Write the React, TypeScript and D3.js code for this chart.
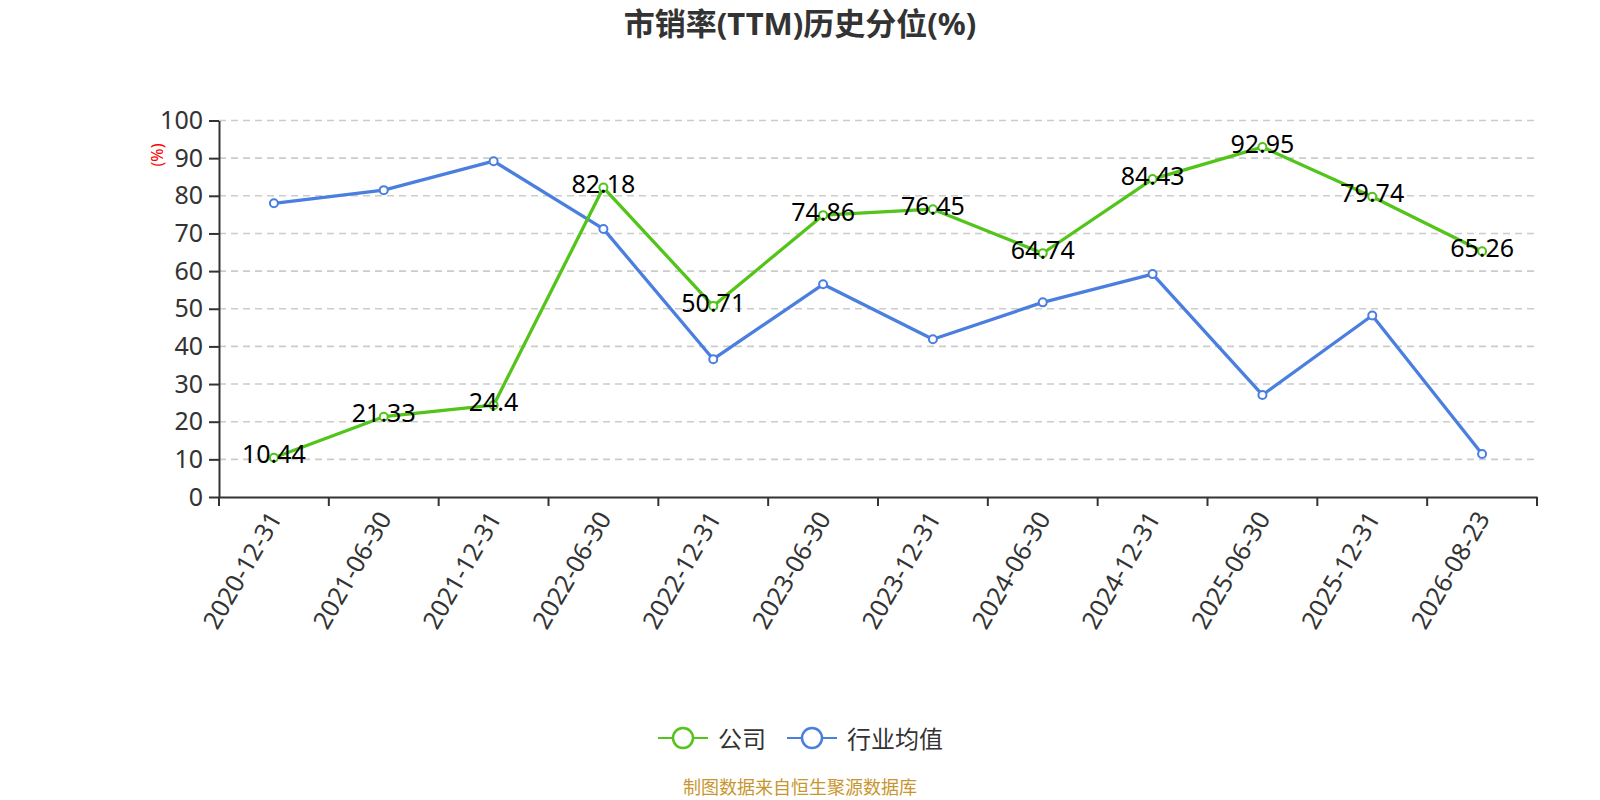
import React, { useEffect, useRef } from 'react';
import * as d3 from 'd3';

const categories = [
  '2020-12-31', '2021-06-30', '2021-12-31', '2022-06-30', '2022-12-31', '2023-06-30',
  '2023-12-31', '2024-06-30', '2024-12-31', '2025-06-30', '2025-12-31', '2026-08-23',
];
const companyValues = [10.44, 21.33, 24.4, 82.18, 50.71, 74.86, 76.45, 64.74, 84.43, 92.95, 79.74, 65.26];
const industryValues = [78.0, 81.5, 89.2, 71.2, 36.6, 56.5, 41.9, 51.7, 59.2, 27.1, 48.2, 11.4];
const yTicks = [0, 10, 20, 30, 40, 50, 60, 70, 80, 90, 100];

const FONT = '"Noto Sans", "Noto Sans CJK SC", sans-serif';
const GREEN = '#52c41a';
const BLUE = '#4a7fe0';

const App: React.FC = () => {
  const svgRef = useRef<SVGSVGElement>(null);

  useEffect(() => {
    if (!svgRef.current) return;
    document.body.style.margin = '0';
    document.body.style.overflow = 'hidden';
    const left = 219, right = 1537, top = 120.5, bottom = 497;
    const svg = d3.select(svgRef.current);
    svg.selectAll('*').remove();

    const x = d3.scaleBand<string>().domain(categories).range([left, right]);
    const y = d3.scaleLinear().domain([0, 100]).range([bottom, top]);
    const cx = (d: string) => (x(d) as number) + x.bandwidth() / 2;

    // Title
    svg.append('text')
      .attr('x', 800).attr('y', 23)
      .attr('text-anchor', 'middle').attr('dominant-baseline', 'central')
      .attr('font-family', FONT).attr('font-size', 31).attr('font-weight', 'bold')
      .attr('fill', '#333')
      .text('市销率(TTM)历史分位(%)');

    // Grid lines
    svg.append('g').selectAll('line')
      .data(yTicks.filter(t => t > 0))
      .join('line')
      .attr('x1', left).attr('x2', right)
      .attr('y1', d => y(d)).attr('y2', d => y(d))
      .attr('stroke', '#ccc').attr('stroke-width', 1.6).attr('stroke-dasharray', '7,5');

    // Y axis
    const yAxis = svg.append('g')
      .attr('transform', `translate(${left},0)`)
      .call(d3.axisLeft(y).tickValues(yTicks).tickSize(10).tickSizeOuter(0));
    yAxis.select('.domain').attr('stroke', '#333').attr('stroke-width', 2);
    yAxis.selectAll('.tick line').attr('stroke', '#333').attr('stroke-width', 2);
    yAxis.selectAll('.tick text')
      .attr('font-family', FONT).attr('font-size', 25).attr('fill', '#333').attr('x', -16);

    svg.append('text')
      .attr('transform', `translate(157,155) rotate(-90)`)
      .attr('text-anchor', 'middle').attr('dominant-baseline', 'central')
      .attr('font-family', FONT).attr('font-size', 16).attr('fill', 'red')
      .text('(%)');

    // X axis
    const xAxis = svg.append('g')
      .attr('transform', `translate(0,${bottom})`)
      .call(d3.axisBottom(x).tickSize(0).tickSizeOuter(0));
    xAxis.select('.domain').attr('stroke', '#333').attr('stroke-width', 2);
    xAxis.selectAll('.tick text')
      .attr('font-family', FONT).attr('font-size', 25).attr('fill', '#333')
      .attr('text-anchor', 'end').attr('dominant-baseline', 'central')
      .attr('transform', 'translate(0,16) rotate(-60)')
      .attr('x', 0).attr('y', 0).attr('dy', null);
    const boundaries = categories.map(c => x(c) as number).concat([right]);
    svg.append('g').selectAll('line')
      .data(boundaries)
      .join('line')
      .attr('x1', d => d).attr('x2', d => d)
      .attr('y1', bottom).attr('y2', bottom + 9)
      .attr('stroke', '#333').attr('stroke-width', 2);

    const line = d3.line<number>()
      .x((_, i) => cx(categories[i]))
      .y(d => y(d));

    const drawSeries = (values: number[], color: string, labels: boolean) => {
      const g = svg.append('g');
      g.append('path')
        .attr('d', line(values) as string)
        .attr('fill', 'none').attr('stroke', color).attr('stroke-width', 3.3)
        .attr('stroke-linejoin', 'round');
      g.selectAll('circle')
        .data(values)
        .join('circle')
        .attr('cx', (_, i) => cx(categories[i])).attr('cy', d => y(d))
        .attr('r', 4).attr('fill', '#fff').attr('stroke', color).attr('stroke-width', 2);
      if (labels) {
        g.selectAll('text')
          .data(values)
          .join('text')
          .attr('x', (_, i) => cx(categories[i])).attr('y', d => y(d) + 5.5)
          .attr('text-anchor', 'middle')
          .attr('font-family', FONT).attr('font-size', 25).attr('fill', '#000')
          .text(d => String(d));
      }
    };

    drawSeries(industryValues, BLUE, false);
    drawSeries(companyValues, GREEN, true);

    // Legend
    const legend = [
      { name: '公司', color: GREEN, x: 658 },
      { name: '行业均值', color: BLUE, x: 787 },
    ];
    const lg = svg.append('g');
    legend.forEach(item => {
      lg.append('line')
        .attr('x1', item.x).attr('x2', item.x + 50)
        .attr('y1', 738).attr('y2', 738)
        .attr('stroke', item.color).attr('stroke-width', 2);
      lg.append('circle')
        .attr('cx', item.x + 25).attr('cy', 738).attr('r', 10)
        .attr('fill', '#fff').attr('stroke', item.color).attr('stroke-width', 2.5);
      lg.append('text')
        .attr('x', item.x + 60).attr('y', 738)
        .attr('dominant-baseline', 'central')
        .attr('font-family', FONT).attr('font-size', 24).attr('fill', '#333')
        .text(item.name);
    });

    // Footer
    svg.append('text')
      .attr('x', 800).attr('y', 794)
      .attr('text-anchor', 'middle')
      .attr('font-family', FONT).attr('font-size', 18).attr('fill', '#c8962e')
      .text('制图数据来自恒生聚源数据库');
  }, []);

  return (
    <svg
      ref={svgRef}
      width={1600}
      height={800}
      style={{ display: 'block', background: '#fff' }}
    />
  );
};

export default App;
